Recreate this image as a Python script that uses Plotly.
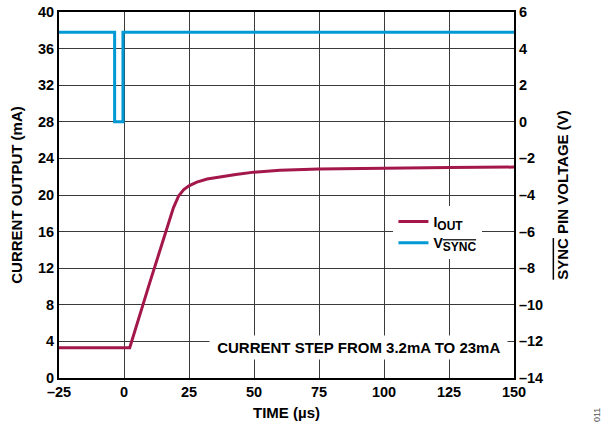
import plotly.graph_objects as go

# ---- data ----
t_iout = [-25, 2.2, 10, 16, 19, 21, 23, 25, 28, 32, 37, 43, 50, 60, 75, 100, 125, 150]
iout_ma = [3.3, 3.3, 10.5, 16.0, 18.6, 19.9, 20.6, 21.0, 21.4, 21.75, 22.0, 22.25, 22.5, 22.7, 22.85, 22.95, 23.0, 23.05]

t_sync = [-25, -3.6, -3.6, -0.4, -0.4, 150]
vsync_v = [4.9, 4.9, 0.0, 0.0, 4.9, 4.9]

x_ticks = [-25, 0, 25, 50, 75, 100, 125, 150]
x_ticktext = ["–25", "0", "25", "50", "75", "100", "125", "150"]
y1_ticks = [0, 4, 8, 12, 16, 20, 24, 28, 32, 36, 40]
y2_ticks = [6, 4, 2, 0, -2, -4, -6, -8, -10, -12, -14]
y2_ticktext = ["6", "4", "2", "0", "–2", "–4", "–6", "–8", "–10", "–12", "–14"]

RED = "#A3174A"
BLUE = "#0099D4"
FONT = "Liberation Sans"
OL = '<span style="text-decoration:overline">SYNC</span>'
SUB = '<span style="font-size:12px">'

tickfont = dict(family=FONT, size=14.5, color="black", weight="bold")
titlefont = dict(family=FONT, size=15, color="black", weight="bold")

fig = go.Figure()
fig.add_trace(go.Scatter(x=t_iout, y=iout_ma, mode="lines",
                         name="I<sub>" + SUB + "OUT</span></sub>",
                         line=dict(color=RED, width=3), yaxis="y"))
fig.add_trace(go.Scatter(x=t_sync, y=vsync_v, mode="lines",
                         name="V<sub>" + SUB + OL + "</span></sub>",
                         line=dict(color=BLUE, width=3), yaxis="y2"))

common = dict(showline=True, linecolor="black", linewidth=2, zeroline=False,
              ticks="", tickfont=tickfont, automargin=False)

fig.update_layout(
    width=602, height=430,
    margin=dict(l=59, r=88, t=12, b=52),
    paper_bgcolor="white", plot_bgcolor="white",
    font=dict(family=FONT, size=14, color="black"),
    showlegend=True,
    legend=dict(x=0.735, y=0.47, xanchor="left", yanchor="top", bgcolor="white",
                font=dict(family=FONT, size=14, color="black", weight="bold"),
                itemwidth=30, tracegroupgap=0, borderwidth=0),
    xaxis=dict(range=[-25, 150], tickvals=x_ticks, ticktext=x_ticktext, mirror=True,
               showgrid=True, gridcolor="#3a3a3a", gridwidth=1,
               title=dict(text="TIME (µs)", standoff=8, font=titlefont), **common),
    yaxis=dict(range=[0, 40], tickvals=y1_ticks,
               showgrid=True, gridcolor="#3a3a3a", gridwidth=1,
               title=dict(text="CURRENT OUTPUT (mA)", standoff=12, font=titlefont), **common),
    yaxis2=dict(range=[-14, 6], tickvals=y2_ticks, ticktext=y2_ticktext, overlaying="y", side="right",
                showgrid=False,
                title=dict(text=OL + " PIN VOLTAGE (V)", standoff=15, font=titlefont), **common),
)

fig.add_annotation(x=90.3, y=3.3, xref="x", yref="y", text=" CURRENT STEP FROM 3.2mA TO 23mA ",
                   showarrow=False, bgcolor="white", borderpad=3,
                   font=dict(family=FONT, size=15, color="black", weight="bold"))
fig.add_annotation(x=1.0, y=0.0, xref="paper", yref="paper", xanchor="center", yanchor="middle",
                   xshift=83, yshift=-37, text="011", textangle=-90, showarrow=False,
                   font=dict(family=FONT, size=9, color="#555555"))

# remove the browser's default 8px body margin so the figure fills the window
fig.write_html("out.html", config={"displayModeBar": False},
               post_script="document.body.style.margin='0';")
